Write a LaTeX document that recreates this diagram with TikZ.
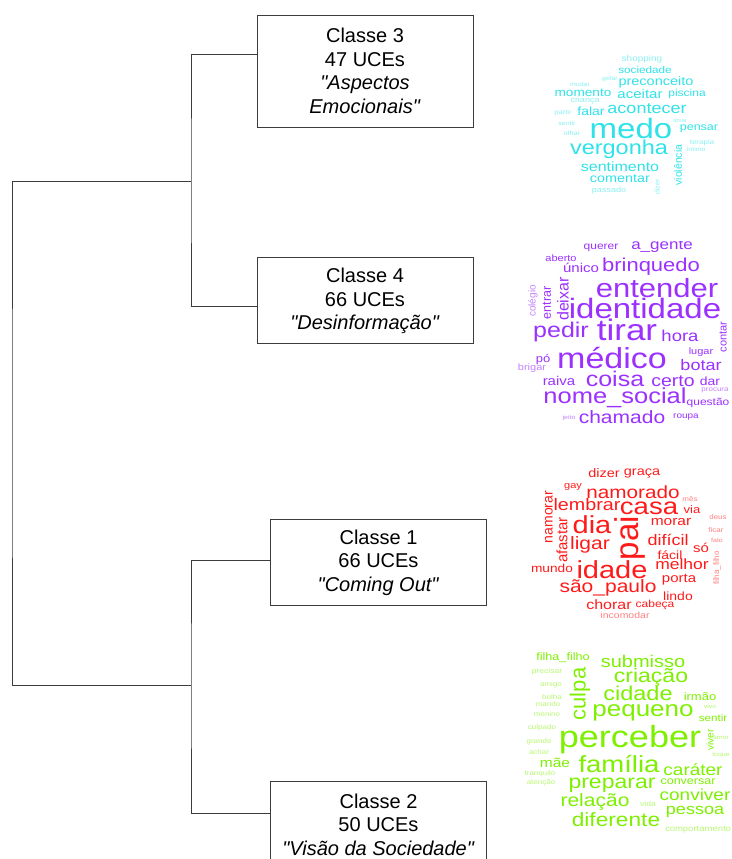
\documentclass[tikz,border=0pt]{standalone}
\usepackage{fontspec}
\setmainfont{Liberation Sans}
\usetikzlibrary{positioning}
\definecolor{tree-gray}{HTML}{3C3C3C}
\definecolor{cloud-cyan}{HTML}{2EE2E8}
\definecolor{cloud-purple}{HTML}{9B30FF}
\definecolor{cloud-red}{HTML}{FF1A1A}
\definecolor{cloud-green}{HTML}{7DF000}

\begin{document}
\begin{tikzpicture}[x=1pt, y=-1pt,
    classbox/.style={draw=tree-gray, line width=0.9pt, minimum width=216pt, align=center, inner sep=0pt, font=\fontsize{20}{23.5}\selectfont},
    tree/.style={draw=tree-gray, line width=1pt},
    cloudword/.style={inner sep=0pt, anchor=center, transform shape}]
    % frame
    \useasboundingbox (0,0) rectangle (731,859);

    % classes
    \node[classbox, minimum height=112pt] (c3) at (365,71) {Classe 3\\47 UCEs\\\textit{\textquotedbl Aspectos}\\\textit{Emocionais\textquotedbl}};
    \node[classbox, minimum height=86pt, below=130pt of c3] (c4) {Classe 4\\66 UCEs\\\textit{\textquotedbl Desinformação\textquotedbl}};
    \node[classbox, minimum height=86pt, below=175pt of c4, xshift=13.5pt] (c1) {Classe 1\\66 UCEs\\\textit{\textquotedbl Coming Out\textquotedbl}};
    \node[classbox, minimum height=86pt, below=175pt of c1] (c2) {Classe 2\\50 UCEs\\\textit{\textquotedbl Visão da Sociedade\textquotedbl}};

    % dendrogram
    \coordinate (j34) at (191,181);
    \coordinate (j12) at (191,685);
    \coordinate (root) at (12,433);
    \draw[tree] ([yshift=16pt]c3.west) -| (j34) |- ([yshift=-6pt]c4.west);
    \draw[tree] ([yshift=2pt]c1.west) -| (j12) |- ([yshift=11pt]c2.west);
    \draw[tree] (j34) -| (root) |- (j12);

    % cloud of class 3
    \foreach \x/\y/\s/\r/\w [count=\i] in {631/128/33/0/medo, 619/149/23.5/0/vergonha, 647/109/18/0/acontecer,
        640/94/15/0/aceitar, 687/94/12/0/piscina, 583/93/13.6/0/momento, 656/82/14.5/0/preconceito,
        645/70/11.7/0/sociedade, 591/111/14/0/falar, 699/129/12.5/0/pensar, 678/165/10.5/90/violência,
        620/167/16/0/sentimento, 620/179/14.4/0/comentar}
        \node[cloudword, text=cloud-cyan, font=\fontsize{\s}{\s}\selectfont, yscale={1-0.15*(\r==0)}, rotate=\r] (w3-\i) at (\x,\y) {\w};
    \foreach \x/\y/\s/\r/\w [count=\i] in {642/59/10/0/shopping, 610/79/7/0/gelar, 580/84/7/0/mudar,
        585/101/9/0/criança, 563/113/7.5/0/partir, 567/123/7/0/sentir, 572/133/7.5/0/olhar, 680/121/6/0/amar,
        702/143/8/0/terapia, 696/149/7/0/íntimo, 609/191/9/0/passado, 657/187/7/90/dizer}
        \node[cloudword, text=cloud-cyan!55, font=\fontsize{\s}{\s}\selectfont, yscale={1-0.15*(\r==0)}, rotate=\r] (v3-\i) at (\x,\y) {\w};

    % cloud of class 4
    \begin{scope}
    \clip (495,241) rectangle (731,430);
    \foreach \x/\y/\s/\r/\w [count=\i] in {601/248/12/0/querer, 662/246/17/0/a\_gente, 561/258/11/0/aberto,
        581/268/15/0/único, 651/267/22/0/brinquedo, 657/288/31/0/entender, 645/308/33/0/identidade,
        547/303/12.5/90/entrar, 563/299/16/90/deixar, 561/332/25/0/pedir, 627/330/35/0/tirar,
        680/336/18.5/0/hora, 723/337/11/90/contar, 543/360/13/0/pó, 612/358/34/0/médico,
        701/352/11/0/lugar, 701/365/18/0/botar, 559/381/15/0/raiva, 615/379/25/0/coisa,
        673/381/19.5/0/certo, 710/381/14/0/dar, 615/398/25.5/0/nome\_social, 708/403/12/0/questão,
        622/417/21/0/chamado, 686/417/10/0/roupa}
        \node[cloudword, text=cloud-purple, font=\fontsize{\s}{\s}\selectfont, yscale={1-0.15*(\r==0)}, rotate=\r] (w4-\i) at (\x,\y) {\w};
    \foreach \x/\y/\s/\r/\w [count=\i] in {533/301/10/90/colégio, 532/368/11/0/brigar, 715/390/8/0/procura,
        569/418/7/0/jeito}
        \node[cloudword, text=cloud-purple!60, font=\fontsize{\s}{\s}\selectfont, yscale={1-0.15*(\r==0)}, rotate=\r] (v4-\i) at (\x,\y) {\w};
    \end{scope}

    % cloud of class 1
    \foreach \x/\y/\s/\r/\w [count=\i] in {604/473/14.5/0/dizer, 642/473/14.5/0/graça, 573/487/11/0/gay,
        633/492/20.7/0/namorado, 549/517/14/90/namorar, 587/505/19.7/0/lembrar, 649/508/27.5/0/casa,
        692/510/13/0/via, 562/540/15/90/afastar, 592/525/29/0/dia, 630/538/33/90/pai, 671/522/15.5/0/morar,
        590/545/21/0/ligar, 668/540/18/0/difícil, 701/548/15/0/só, 670/555/14/0/fácil, 552/568/13.7/0/mundo,
        612/570/29/0/idade, 682/564/17.5/0/melhor, 679/580/15/0/porta, 608/588/21/0/são\_paulo,
        678/596/14/0/lindo, 609/605/16/0/chorar, 655/605/12/0/cabeça}
        \node[cloudword, text=cloud-red, font=\fontsize{\s}{\s}\selectfont, yscale={1-0.15*(\r==0)}, rotate=\r] (w1-\i) at (\x,\y) {\w};
    \foreach \x/\y/\s/\r/\w [count=\i] in {690/499/8/0/mês, 718/517/8/0/deus, 716/530/8/0/ficar,
        717/540/7/0/fato, 717/568/8/90/filha\_filho, 625/615/10.5/0/incomodar}
        \node[cloudword, text=cloud-red!55, font=\fontsize{\s}{\s}\selectfont, yscale={1-0.15*(\r==0)}, rotate=\r] (v1-\i) at (\x,\y) {\w};

    % cloud of class 2
    \foreach \x/\y/\s/\r/\w [count=\i] in {563/658/12.6/0/filha\_filho, 643/661/20/0/submisso, 580/694/22/90/culpa,
        651/677/23/0/criação, 638/693/23.5/0/cidade, 700/697/13/0/irmão, 643/713/26/0/pequeno,
        713/718/11.6/0/sentir, 630/740/36/0/perceber, 710/740/10/90/viver, 555/763/15.5/0/mãe,
        619/764/27.5/0/família, 693/770/19/0/caráter, 612/785/23/0/preparar, 688/782/12.5/0/conversar,
        695/795/19/0/conviver, 595/802/21/0/relação, 695/812/18/0/pessoa, 616/820/22.7/0/diferente}
        \node[cloudword, text=cloud-green, font=\fontsize{\s}{\s}\selectfont, yscale={1-0.15*(\r==0)}, rotate=\r] (w2-\i) at (\x,\y) {\w};
    \foreach \x/\y/\s/\r/\w [count=\i] in {547/672/8.5/0/precisar, 551/685/8/0/amigo, 552/697/8/0/bolha,
        548/704/8/0/marido, 710/706/7/0/vivo, 547/714/8/0/menino, 542/728/8/0/culpado, 539/742/8/0/grande,
        721/738/7/0/amor, 539/752/8/0/achar, 721/755/7/0/toque, 540/774/8/0/tranquilo, 541/783/8/0/atenção,
        648/804/8.5/0/vida, 698/830/9.5/0/comportamento}
        \node[cloudword, text=cloud-green!55, font=\fontsize{\s}{\s}\selectfont, yscale={1-0.15*(\r==0)}, rotate=\r] (v2-\i) at (\x,\y) {\w};

\end{tikzpicture}
\end{document}
